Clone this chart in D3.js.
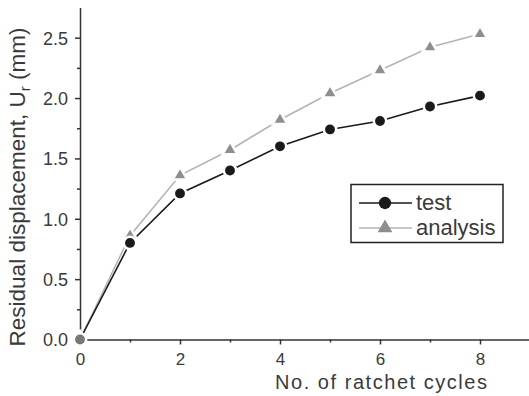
<!DOCTYPE html>
<html>
<head>
<meta charset="utf-8">
<script src="https://cdn.jsdelivr.net/npm/d3@7"></script>
<style>
	body { margin: 0; background: #fff; }
	svg text { font-family: "Liberation Sans", Arial, sans-serif; fill: #3a3a3a; }
</style>
</head>
<body>
<svg id="chart" width="529" height="396"></svg>
<script>
var cycles = [ 0, 1, 2, 3, 4, 5, 6, 7, 8 ];
var testValues = [ 0, 0.80, 1.21, 1.40, 1.60, 1.74, 1.81, 1.93, 2.02 ];
var analysisValues = [ 0, 0.86, 1.36, 1.57, 1.82, 2.04, 2.23, 2.42, 2.53 ];
var xTicks = [ 0, 2, 4, 6, 8 ];
var xMinorTicks = [ 1, 3, 5, 7 ];
var yTicks = [ 0, 0.5, 1.0, 1.5, 2.0, 2.5 ];
var yMinorTicks = [ 0.25, 0.75, 1.25, 1.75, 2.25 ];

var svg = d3.select( '#chart' );

var x = d3.scaleLinear().domain( [ 0, 9 ] ).range( [ 80, 530 ] );
var y = d3.scaleLinear().domain( [ 0, 2.75 ] ).range( [ 339.5, 7.5 ] );

var axisColor = '#333';

// y axis
var yAxis = svg.append( 'g' )
	.attr( 'transform', 'translate(' + x( 0 ) + ',0)' )
	.call( d3.axisLeft( y ).tickValues( yTicks ).tickFormat( d3.format( '.1f' ) ).tickSize( 5 ).tickSizeOuter( 0 ).tickPadding( 7 ) );
yAxis.selectAll( 'text' ).style( 'font-size', '18px' ).attr( 'dy', '0.36em' );
svg.append( 'g' )
	.attr( 'transform', 'translate(' + x( 0 ) + ',0)' )
	.call( d3.axisLeft( y ).tickValues( yMinorTicks ).tickFormat( '' ).tickSize( 3 ).tickSizeOuter( 0 ) )
	.select( '.domain' ).remove();

// x axis
var xAxis = svg.append( 'g' )
	.attr( 'transform', 'translate(0,' + y( 0 ) + ')' )
	.call( d3.axisBottom( x ).tickValues( xTicks ).tickFormat( d3.format( 'd' ) ).tickSize( 5 ).tickSizeOuter( 0 ).tickPadding( 8 ) );
xAxis.selectAll( 'text' ).style( 'font-size', '17px' );
svg.append( 'g' )
	.attr( 'transform', 'translate(0,' + y( 0 ) + ')' )
	.call( d3.axisBottom( x ).tickValues( xMinorTicks ).tickFormat( '' ).tickSize( 3 ).tickSizeOuter( 0 ) )
	.select( '.domain' ).remove();

svg.selectAll( '.domain, .tick line' ).attr( 'stroke', axisColor ).attr( 'stroke-width', 1.5 );

// axis titles
svg.append( 'text' )
	.attr( 'x', 275 )
	.attr( 'y', 389 )
	.attr( 'textLength', 212 )
	.attr( 'lengthAdjust', 'spacing' )
	.style( 'font-size', '20px' )
	.text( 'No. of ratchet cycles' );

var yTitle = svg.append( 'text' )
	.attr( 'transform', 'translate(25,187) rotate(-90)' )
	.attr( 'text-anchor', 'middle' )
	.style( 'font-size', '22.5px' );
yTitle.append( 'tspan' ).text( 'Residual displacement, U' );
yTitle.append( 'tspan' ).attr( 'dy', 5 ).style( 'font-size', '15px' ).text( 'r' );
yTitle.append( 'tspan' ).attr( 'dy', -5 ).text( ' (mm)' );

// series
var series = [
	{ name: 'test', values: testValues, line: '#1a1a1a', fill: '#1a1a1a', shape: d3.symbolCircle, size: 120 },
	{ name: 'analysis', values: analysisValues, line: '#b4b4b4', fill: '#8e8e8e', shape: d3.symbolTriangle, size: 95 }
];

var line = d3.line()
	.x( function ( d, i ) { return x( cycles[i] ); } )
	.y( function ( d ) { return y( d ); } );

series.slice().reverse().forEach( function ( s ) {
	svg.append( 'path' )
		.datum( s.values )
		.attr( 'd', line )
		.attr( 'fill', 'none' )
		.attr( 'stroke', s.line )
		.attr( 'stroke-width', 1.6 );
} );

series.slice().reverse().forEach( function ( s ) {
	svg.selectAll( null )
		.data( s.values )
		.enter()
		.append( 'path' )
		.attr( 'transform', function ( d, i ) {
			return 'translate(' + x( cycles[i] ) + ',' + y( d ) + ')';
		} )
		.attr( 'd', d3.symbol().type( s.shape ).size( s.size ) )
		.attr( 'fill', function ( d, i ) { return i === 0 ? '#777' : s.fill; } )
		.attr( 'stroke', '#fff' )
		.attr( 'stroke-width', 2.5 );
} );

// legend
var legend = svg.append( 'g' );
legend.append( 'rect' )
	.attr( 'x', 351 )
	.attr( 'y', 184.5 )
	.attr( 'width', 152 )
	.attr( 'height', 58 )
	.attr( 'fill', '#fff' )
	.attr( 'stroke', '#222' )
	.attr( 'stroke-width', 1.5 );

series.forEach( function ( s, i ) {
	var ly = 203 + i * 25;
	legend.append( 'line' )
		.attr( 'x1', 359 )
		.attr( 'x2', 412 )
		.attr( 'y1', ly )
		.attr( 'y2', ly )
		.attr( 'stroke', s.line )
		.attr( 'stroke-width', 1.6 );
	legend.append( 'path' )
		.attr( 'transform', 'translate(385,' + ly + ')' )
		.attr( 'd', d3.symbol().type( s.shape ).size( s.size ) )
		.attr( 'fill', s.fill );
	legend.append( 'text' )
		.attr( 'x', 416 )
		.attr( 'y', ly + 7 )
		.style( 'font-size', '22px' )
		.text( s.name );
} );
</script>
</body>
</html>
